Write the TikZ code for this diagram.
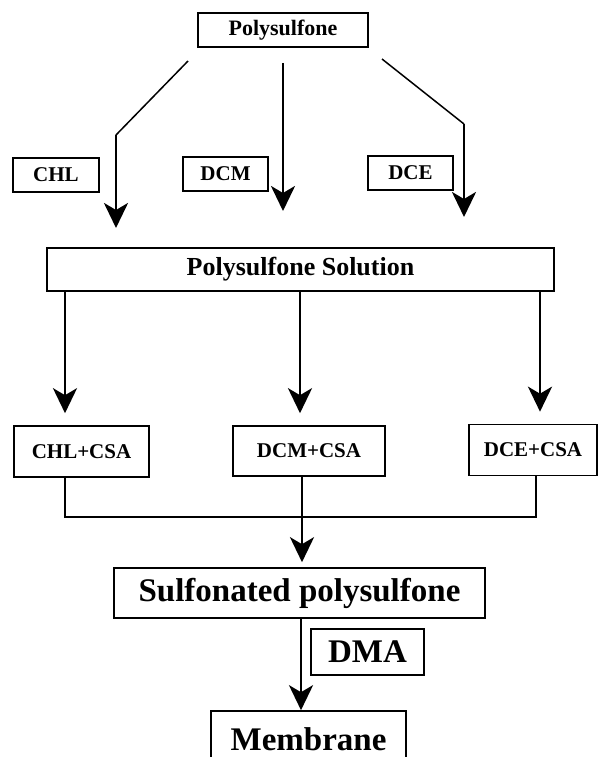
\documentclass[tikz,border=0pt]{standalone}
\usepackage{fontspec}
\setmainfont{Liberation Serif}
\usetikzlibrary{arrows.meta}

\tikzset{
	box/.style={draw, line width=1.6pt, inner sep=0pt},
	flow/.style={line width=2.8pt, -{Stealth[length=25pt,width=24pt,inset=7pt]}},
	thin line/.style={line width=1.5pt},
	small text/.style={font=\bfseries\fontsize{21}{21}\selectfont},
	big text/.style={font=\bfseries\fontsize{33}{33}\selectfont},
}

\begin{document}
\begin{tikzpicture}[x=1pt,y=-1pt]
			\useasboundingbox (0,0) rectangle (597,757);

			% start
			\node[box, minimum width=170pt, minimum height=34pt, font=\bfseries\fontsize{22}{22}\selectfont] (poly) at (283,30) {Polysulfone};

			% solvents
			\node[box, small text, minimum width=86pt, minimum height=34pt] (chl) at (56,175) {CHL};
			\node[box, small text, minimum width=85pt, minimum height=34pt] (dcm) at (225.5,174) {DCM};
			\node[box, small text, minimum width=85pt, minimum height=34pt] (dce) at (410.5,173) {DCE};

			% free ends of the solvent arrows
			\coordinate (l0) at (188,61);
			\coordinate (l1) at (116,135);
			\coordinate (l2) at (116,228);
			\coordinate (m0) at (283,63);
			\coordinate (m1) at (283,211);
			\coordinate (r0) at (382,59);
			\coordinate (r1) at (464,124);
			\coordinate (r2) at (464,217);

			\draw [thin line] (l0) -- (l1) ;
			\draw [flow] (l1) -- (l2) ;
			\draw [flow] (m0) -- (m1) ;
			\draw [thin line] (r0) -- (r1) ;
			\draw [flow] (r1) -- (r2) ;

			% solution
			\node[box, minimum width=507pt, minimum height=43pt, font=\bfseries\fontsize{26}{26}\selectfont] (sol) at (300.5,269.5) {Polysulfone Solution};

			% with CSA
			\node[box, small text, minimum width=135pt, minimum height=51pt] (chlcsa) at (81.5,451.5) {CHL+CSA};
			\node[box, small text, minimum width=152pt, minimum height=50pt] (dcmcsa) at (309,451) {DCM+CSA};
			\node[box, small text, minimum width=128pt, minimum height=51pt] (dcecsa) at (533,450) {DCE+CSA};

			% columns of the arrows
			\coordinate (a1) at (65,0);
			\coordinate (a2) at (300,0);
			\coordinate (a3) at (540,0);

			\draw [flow, shorten >=12pt] (sol.south -| a1) -- (chlcsa.north -| a1) ;
			\draw [flow, shorten >=12pt] (sol.south -| a2) -- (dcmcsa.north -| a2) ;
			\draw [flow, shorten >=12pt] (sol.south -| a3) -- (dcecsa.north -| a3) ;

			% sulfonation
			\node[box, big text, minimum width=371pt, minimum height=50pt] (sulf) at (299.5,593) {Sulfonated polysulfone};

			% collecting line
			\coordinate (j1) at (65,517);
			\coordinate (j2) at (536,517);
			\coordinate (j3) at (302,0);

			\draw [line width=1.6pt] (chlcsa.south -| j1) -- (j1) -- (j2) -- (dcecsa.south -| j2) ;
			\draw [flow, shorten >=5pt] (dcmcsa.south -| j3) -- (sulf.north -| j3) ;

			% membrane
			\node[box, big text, minimum width=113pt, minimum height=46pt] (dma) at (367.5,652) {DMA};
			\node[box, big text, text depth=0pt, minimum width=195pt, minimum height=56pt] (memb) at (308.5,739) {Membrane};

			\coordinate (j4) at (301,0);
			\draw [flow] (sulf.south -| j4) -- (memb.north -| j4) ;

		\end{tikzpicture}
\end{document}
